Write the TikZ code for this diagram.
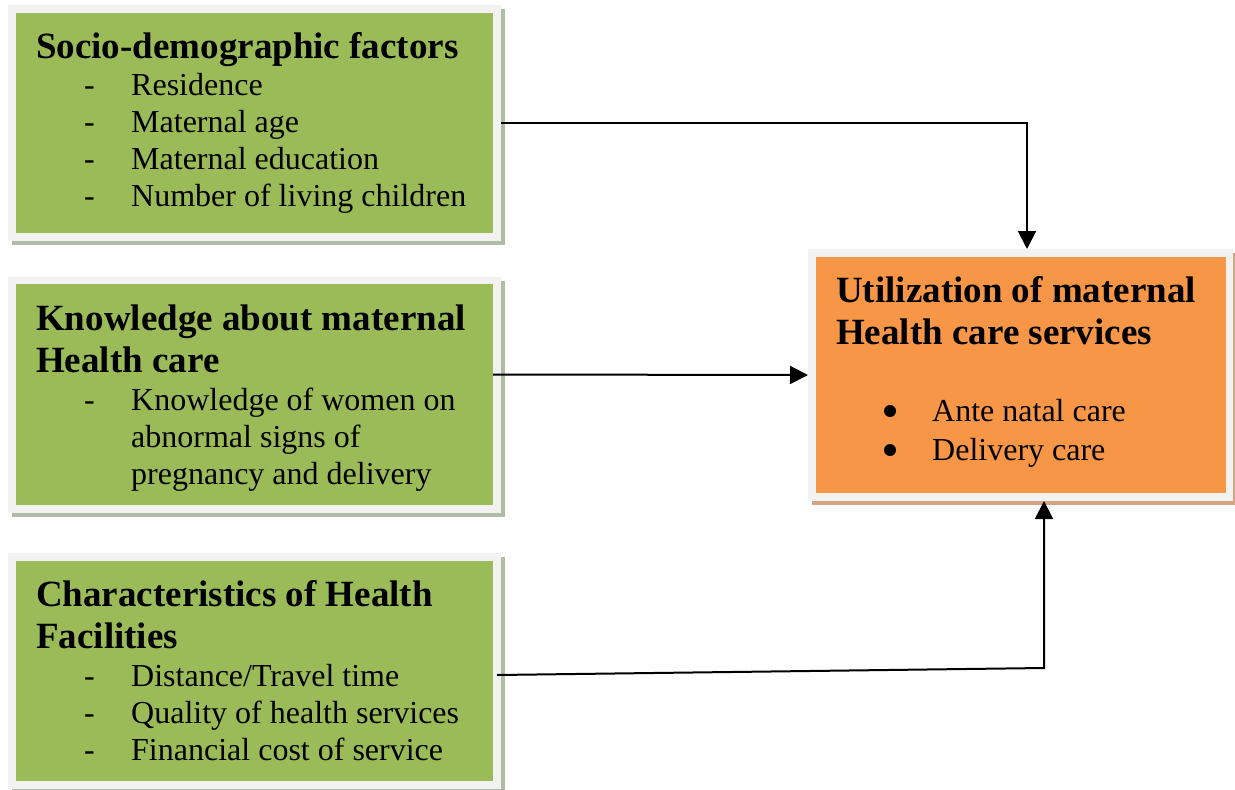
\documentclass[tikz,border=0pt]{standalone}
\usepackage{fontspec}
\setmainfont{Liberation Serif}
\usetikzlibrary{arrows.meta}
\definecolor{boxgreen}{HTML}{9BBB59}
\definecolor{boxorange}{HTML}{F79646}
\definecolor{framegray}{HTML}{F2F2F2}
\definecolor{shadegreen}{HTML}{B2BBA3}
\definecolor{shadeorange}{HTML}{D3A584}
\tikzset{
  frame/.style={rectangle, fill=framegray, draw=none, inner sep=0pt, outer sep=0pt, anchor=north west},
  panel/.style={rectangle, draw=none, inner sep=0pt, outer sep=0pt, anchor=north west},
  title/.style={anchor=base west, inner sep=0pt, font=\fontsize{37}{42}\selectfont\bfseries},
  item/.style={anchor=base west, inner sep=0pt, font=\fontsize{32}{37}\selectfont},
  bulletmark/.style={circle, fill=black, inner sep=0pt, minimum size=12pt},
  conn/.style={line width=2pt, -{Triangle[length=18pt,width=18pt]}},
}
\begin{document}
\begin{tikzpicture}[x=1pt,y=-1pt]
\useasboundingbox (0,0) rectangle (1235,790);
% shadows
\fill[shadegreen] (12,9) rectangle (505,245);
\fill[shadegreen] (12,281) rectangle (505,517);
\fill[shadegreen] (12,557) rectangle (505,793);
\fill[shadeorange] (812,253) rectangle (1237,505);
% frames
\node[frame, minimum width=493pt, minimum height=236pt] (b1) at (8,5) {};
\node[frame, minimum width=493pt, minimum height=236pt] (b2) at (8,277) {};
\node[frame, minimum width=493pt, minimum height=236pt] (b3) at (8,553) {};
\node[frame, minimum width=425pt, minimum height=252pt] (o) at (808,249) {};
% inner panels
\node[panel, fill=boxgreen, minimum width=477pt, minimum height=220pt] (g1) at (16,13) {};
\node[panel, fill=boxgreen, minimum width=477pt, minimum height=221pt] (g2) at (16,284) {};
\node[panel, fill=boxgreen, minimum width=477pt, minimum height=220pt] (g3) at (16,561) {};
\node[panel, fill=boxorange, minimum width=410pt, minimum height=236pt] (go) at (816,257) {};
% box 1 text
\node[title] (t1) at (36,58) {Socio-demographic factors};
\node[item] (d11) at (84,95) {-};
\node[item] (i11) at (131,95) {Residence};
\node[item] (d12) at (84,132) {-};
\node[item] (i12) at (131,132) {Maternal age};
\node[item] (d13) at (84,169) {-};
\node[item] (i13) at (131,169) {Maternal education};
\node[item] (d14) at (84,206) {-};
\node[item] (i14) at (131,206) {Number of living children};
% box 2 text
\node[title] (t2a) at (36,330) {Knowledge about maternal};
\node[title] (t2b) at (36,372) {Health care};
\node[item] (d21) at (84,410) {-};
\node[item] (i21) at (131,410) {Knowledge of women on};
\node[item] (i22) at (131,447) {abnormal signs of};
\node[item] (i23) at (131,484) {pregnancy and delivery};
% box 3 text
\node[title] (t3a) at (36,606) {Characteristics of Health};
\node[title] (t3b) at (36,648) {Facilities};
\node[item] (d31) at (84,686) {-};
\node[item] (i31) at (131,686) {Distance/Travel time};
\node[item] (d32) at (84,723) {-};
\node[item] (i32) at (131,723) {Quality of health services};
\node[item] (d33) at (84,760) {-};
\node[item] (i33) at (131,760) {Financial cost of service};
% orange text
\node[title] (to1) at (836,302) {Utilization of maternal};
\node[title] (to2) at (836,344) {Health care services};
\node[bulletmark] (bu1) at (890,411) {};
\node[item] (io1) at (932,421) {Ante natal care};
\node[bulletmark] (bu2) at (890,450) {};
\node[item] (io2) at (932,460) {Delivery care};
% connectors
\coordinate (k1) at (1027,123);
\coordinate (k3) at (1044,668);
\coordinate (s3) at (497,675);
\draw[conn] (b1.east) -- (k1) -- (o.north -| k1);
\draw[conn] ([yshift=20pt]g2.east) -- (o.west);
\draw[conn] (s3) -- (k3) -- (o.south -| k3);
\end{tikzpicture}
\end{document}
